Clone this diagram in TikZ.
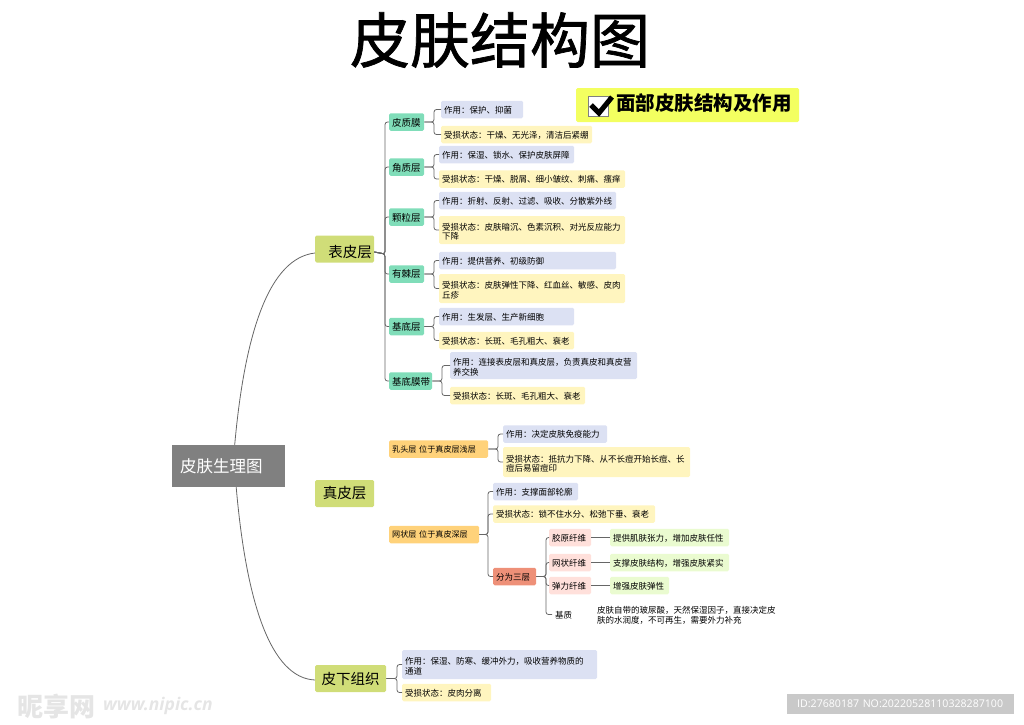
\documentclass[tikz,border=0pt]{standalone}
\usepackage{fontspec}
\setmainfont{Noto Sans CJK SC}
\newfontfamily\wmfont{Open Sans}
\newfontfamily\titlefont[FakeBold=1.2]{Noto Sans CJK SC}
\definecolor{noteblue}{HTML}{DCE1F3}
\definecolor{hurtyellow}{HTML}{FFF5BF}
\definecolor{topicteal}{HTML}{80DDB9}
\definecolor{layergold}{HTML}{FFD27A}
\definecolor{threered}{HTML}{EE9078}
\definecolor{fiberpink}{HTML}{FFE0DB}
\definecolor{fibergreen}{HTML}{EAFBD0}
\definecolor{mainolive}{HTML}{D0DD78}
\definecolor{tagyellow}{HTML}{F3FF60}
\definecolor{linegray}{HTML}{666666}
\tikzset{
  leaf/.style={
    anchor=west,
    rounded corners=1.5pt,
    inner xsep=3pt,
    inner ysep=0pt,
    minimum height=17.5pt,
    align=left,
    text=black,
    text depth=0pt,
    font=\fontsize{8.5}{9.5}\selectfont,
  },
  twolines/.style={text depth=7pt},
  note/.style={leaf,fill=noteblue},
  hurt/.style={leaf,fill=hurtyellow},
  fiber/.style={leaf,fill=fiberpink},
  effect/.style={leaf,fill=fibergreen},
  topic/.style={leaf,fill=topicteal,font=\fontsize{9.5}{11}\selectfont},
  layer/.style={leaf,fill=layergold,font=\fontsize{8.1}{10}\selectfont},
  main/.style={
    anchor=west,
    fill=mainolive,
    rounded corners=1.5pt,
    inner sep=0pt,
    minimum height=27pt,
    font=\fontsize{14.5}{15}\selectfont,
  },
  link/.style={draw=linegray,line width=0.8pt,rounded corners=2.5pt},
  bigcurve/.style={draw=linegray,line width=0.8pt},
}
\begin{document}
\begin{tikzpicture}[x=1pt,y=-1pt]
    \useasboundingbox (0,0) rectangle (1024,724);

    % title and tag
    \node (title) at (500,40) {\titlefont\fontsize{60}{60}\selectfont 皮肤结构图};
    \node[anchor=west,fill=tagyellow,rounded corners=1.5pt,minimum width=223pt,minimum height=34pt,inner sep=0pt] (tag) at (576,105) {};
    \node[anchor=west,inner sep=0pt,font=\fontsize{19.5}{20}\selectfont\bfseries] (tagtext) at (616,103) {面部皮肤结构及作用};
    \node[draw=gray,fill=white,line width=0.6pt,minimum size=20pt,inner sep=0pt] (tick) at (598.5,106.5) {};
    \draw[line width=5pt,black] (591,105) -- (599,113) -- (612,97);

    % root
    \node[anchor=west,fill=gray,text=white,text width=105pt,inner xsep=4pt,inner ysep=0pt,minimum height=42pt,font=\fontsize{16.5}{17}\selectfont] (root) at (172,466) {\hspace{4pt}皮肤生理图};

    % main branches
    \node[main,minimum width=59pt,text height=18.5pt] (biao) at (315,249) {\hspace{11pt}表皮层};
    \node[main,minimum width=59pt] (zhen) at (315,493.5) {真皮层};
    \node[main,minimum width=71pt] (xia) at (315,678.5) {皮下组织};

    % epidermis
    \node[topic,text width=29pt] (zhi) at (389,122) {皮质膜};
    \node[note,text width=76pt] (zhia) at (441,109.5) {作用：保护、抑菌};
    \node[hurt,text width=145pt] (zhib) at (441,134.5) {受损状态：干燥、无光泽，清洁后紧绷};
    \node[topic,text width=29pt] (jiao) at (389,167) {角质层};
    \node[note,text width=129pt] (jiaoa) at (439,154.5) {作用：保湿、锁水、保护皮肤屏障};
    \node[hurt,text width=180pt] (jiaob) at (439,179) {受损状态：干燥、脱屑、细小皱纹、刺痛、瘙痒};
    \node[topic,text width=29pt] (li) at (389,217) {颗粒层};
    \node[note,text width=171pt] (lia) at (439,200.5) {作用：折射、反射、过滤、吸收、分散紫外线};
    \node[hurt,twolines,text width=180pt,minimum height=28pt] (lib) at (439,230) {受损状态：皮肤暗沉、色素沉积、对光反应能力\\下降};
    \node[topic,text width=29pt] (ji) at (389,274) {有棘层};
    \node[note,text width=171pt] (jia) at (439,260.5) {作用：提供营养、初级防御};
    \node[hurt,twolines,text width=180pt,minimum height=29pt] (jib) at (439,288.5) {受损状态：皮肤弹性下降、红血丝、敏感、皮肉\\丘疹};
    \node[topic,text width=29pt] (di) at (389,326.5) {基底层};
    \node[note,text width=129pt] (dia) at (439,316.5) {作用：生发层、生产新细胞};
    \node[hurt,text width=129pt] (dib) at (439,340.5) {受损状态：长斑、毛孔粗大、衰老};
    \node[topic,text width=37pt] (mo) at (389,381) {基底膜带};
    \node[note,twolines,text width=181pt,minimum height=27pt] (moa) at (450,365.5) {作用：连接表皮层和真皮层，负责真皮和真皮营\\养交换};
    \node[hurt,text width=129pt] (mob) at (450,395.5) {受损状态：长斑、毛孔粗大、衰老};

    % dermis
    \node[layer,text width=93pt] (ru) at (389,449) {乳头层~位于真皮层浅层};
    \node[note,text width=98pt] (rua) at (503,434) {作用：决定皮肤免疫能力};
    \node[hurt,twolines,text width=181pt,minimum height=30pt] (rub) at (503,462) {受损状态：抵抗力下降、从不长痘开始长痘、长\\痘后易留痘印};
    \node[layer,text width=84pt] (wang) at (389,534.5) {网状层~位于真皮深层};
    \node[note,text width=79pt] (wanga) at (493,491.5) {作用：支撑面部轮廓};
    \node[hurt,text width=156pt] (wangb) at (493,514) {受损状态：锁不住水分、松弛下垂、衰老};
    \node[leaf,fill=threered,text width=37pt] (san) at (493,576.5) {分为三层};
    \node[fiber,text width=36pt] (yuan) at (549,537.5) {胶原纤维};
    \node[effect,text width=113pt] (yuana) at (610,537.5) {提供肌肤张力，增加皮肤任性};
    \node[fiber,text width=36pt] (wei) at (549,562.5) {网状纤维};
    \node[effect,text width=113pt] (weia) at (610,562.5) {支撑皮肤结构，增强皮肤紧实};
    \node[fiber,text width=36pt] (tan) at (549,585.5) {弹力纤维};
    \node[effect,text width=53pt] (tana) at (610,585.5) {增强皮肤弹性};
    \node[leaf,text width=18pt] (zhiji) at (552,614.5) {基质};
    \node[leaf,twolines,text width=190pt] (zhijia) at (594,613.5) {皮肤自带的玻尿酸，天然保湿因子，直接决定皮\\肤的水润度，不可再生，需要外力补充};

    % hypodermis
    \node[note,twolines,text width=189pt,minimum height=29pt] (xiaa) at (402,664.5) {作用：保湿、防寒、缓冲外力，吸收营养物质的\\通道};
    \node[hurt,text width=83pt] (xiab) at (402,692.5) {受损状态：皮肉分离};

    % watermark
    \node[anchor=west,inner sep=0pt,text=black!10,font=\fontsize{26}{27}\selectfont\bfseries] (wmcn) at (17,706) {昵享网};
    \node[anchor=west,inner sep=0pt,text=black!10,font=\wmfont\fontsize{17.5}{18}\selectfont\bfseries\itshape] (wmurl) at (103,706) {www.nipic.cn};
    \node[anchor=west,fill=black!21,text=white,text width=217pt,inner xsep=5pt,inner ysep=0pt,minimum height=20pt,font=\wmfont\fontsize{10.6}{11}\selectfont] (wmid) at (787,704) {\hspace{5pt}ID:27680187 NO:20220528110328287100};

    % curves out of the root
    \draw[bigcurve] ([xshift=6pt]root.north) .. controls (245,330) and (270,258) .. ([yshift=-4pt]biao.west);
    \draw[bigcurve] ([xshift=7.5pt]root.south) .. controls (246,600) and (270,678) .. ([yshift=-1.5pt]xia.west);

    % spines
    \foreach \kid in {zhi,jiao,li,ji,di,mo}
      \draw[link] ([yshift=-3pt]biao.east) -- (385,254) |- (\kid.west);
    \foreach \up/\kid/\bend in {zhi/zhia/434,zhi/zhib/434,jiao/jiaoa/434,jiao/jiaob/434,li/lia/434,li/lib/434,ji/jia/434,ji/jib/434,di/dia/434,di/dib/434,mo/moa/442,mo/mob/442,ru/rua/498,ru/rub/498,wang/wanga/488,wang/wangb/488,wang/san/488,xia/xiaa/397,xia/xiab/397,san/yuan/546,san/wei/546,san/tan/546,san/zhiji/546}
      \draw[link] (\up.east) -- (\bend,0 |- \up.east) |- (\kid.west);
    \foreach \up/\kid in {yuan/yuana,wei/weia,tan/tana}
      \draw[link] (\up) -- (\kid);

\end{tikzpicture}
\end{document}
